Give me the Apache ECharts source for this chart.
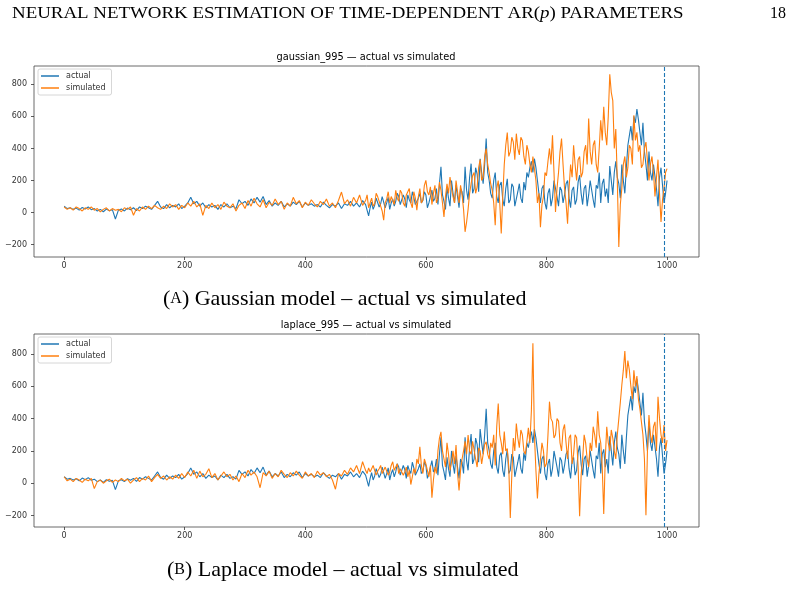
<!DOCTYPE html>
<html><head><meta charset="utf-8">
<script src="https://cdn.jsdelivr.net/npm/echarts@6/dist/echarts.min.js"></script>
<style>html,body{margin:0;padding:0;background:#fff}#c{width:793px;height:611px}</style>
</head><body><div id="c"></div>
<script>
// early part: sampled every 5 time steps, t = 0 ... 495
const actualEarly = [
40,25,30,20,28,15,32,22,35,18,25,10,20,5,22,12,18,-40,15,22,
10,28,18,30,12,35,25,40,30,20,45,70,35,25,50,30,45,35,55,25,
40,60,95,55,70,40,60,30,50,35,45,20,50,35,55,30,40,25,80,55,
70,45,85,60,95,65,100,50,75,40,60,45,70,35,55,40,65,50,70,35,
60,45,55,40,50,35,65,45,30,50,40,60,25,55,45,70,40,60,35,75];
// late part: sampled every 2.5 time steps, t = 500 ... 1000
const actualLate = [
50,40,-20,30,65,20,45,90,80,35,55,100,90,30,60,95,20,60,85,40,
70,120,100,50,45,110,85,30,110,80,60,130,95,50,40,90,120,60,75,130,
110,30,60,100,140,70,90,150,50,180,285,110,70,20,160,90,40,200,120,60,
170,100,30,150,130,60,285,140,80,220,305,120,150,280,240,130,336,250,180,300,
461,250,200,120,90,200,250,100,60,170,190,80,40,150,210,60,80,180,160,40,
30,130,180,90,60,190,140,250,220,280,320,250,336,280,200,120,60,150,170,60,
20,120,150,40,90,200,190,100,40,160,140,60,110,180,200,90,30,140,160,50,
80,190,233,120,50,150,170,40,110,200,200,80,30,170,150,250,60,180,210,100,
150,60,290,200,110,250,320,220,180,90,300,200,120,280,420,480,540,450,600,560,
646,580,500,420,560,380,300,200,380,250,200,300,310,150,40,220,280,170,60,120,
200];
const simGaussianEarly = [
35,20,30,15,35,25,10,30,20,35,15,25,5,20,30,10,25,15,20,5,
30,20,35,-17,25,10,35,20,40,25,45,30,20,40,25,55,35,50,20,45,
30,60,40,70,35,55,-17,45,25,60,30,50,20,65,40,30,55,10,45,60,
25,75,40,90,55,35,80,30,65,45,85,50,70,20,60,40,95,55,75,30,
65,45,80,55,35,70,50,85,40,60,30,75,128,55,80,40,95,60,110,45];
const simGaussianLate = [
75,110,30,60,90,40,55,120,100,70,40,10,-48,60,85,130,60,100,110,50,
139,90,70,140,120,60,40,110,100,150,60,30,130,90,15,100,150,60,80,170,
201,130,110,160,50,120,170,60,90,190,140,60,-27,100,180,120,222,150,100,60,
200,130,60,170,110,20,-120,-60,20,120,180,230,250,120,160,280,330,200,220,350,
399,300,250,180,140,60,-79,150,200,60,-131,100,300,420,499,350,380,470,440,330,
492,400,360,470,450,350,300,420,380,300,250,350,340,200,60,120,-92,50,100,250,
230,320,400,300,482,250,4,150,250,380,461,300,150,60,-69,150,300,220,420,300,
200,330,350,220,250,380,420,300,586,380,300,420,450,300,250,400,575,450,659,500,
420,600,862,750,698,400,521,200,-214,50,150,300,350,220,280,420,400,300,607,450,
500,380,420,280,300,400,440,320,200,300,350,250,100,220,330,120,-58,80,150,250,
274];
const simLaplaceEarly = [
40,15,25,10,30,20,5,25,15,30,-33,10,20,0,15,25,5,20,10,30,
15,25,0,20,35,10,30,20,45,10,35,55,30,45,20,40,25,50,30,60,
35,70,45,80,30,75,40,55,90,35,60,20,45,70,40,55,20,45,10,60,
35,80,50,70,40,-28,65,45,75,30,60,40,80,55,35,65,45,75,50,30,
70,45,60,35,75,50,65,40,55,20,-37,60,45,80,55,95,70,110,60,133];
const simLaplaceLate = [
80,60,95,70,60,110,100,50,75,90,110,60,55,100,90,50,70,110,133,80,
80,120,60,90,100,50,70,100,40,80,-8,40,90,60,150,120,225,110,60,150,
120,80,40,110,-90,20,100,60,200,280,318,200,150,100,250,180,80,130,200,120,
236,60,-45,80,150,200,260,180,298,200,180,260,250,150,100,220,200,120,130,240,
256,180,150,250,220,300,110,350,494,300,250,180,320,200,215,100,-215,50,280,200,
370,280,220,330,300,200,180,260,343,250,450,866,300,80,-95,60,150,250,200,100,
120,300,505,400,380,280,300,400,385,250,200,330,364,250,150,280,300,120,180,300,
281,100,-205,50,150,300,250,150,100,250,200,350,300,220,446,300,250,100,-190,150,
350,250,200,330,280,200,150,300,400,500,608,700,818,650,760,700,600,520,700,600,
663,520,460,380,300,150,-198,200,422,300,250,350,380,200,536,400,300,250,360,200,
267];
const EARLY_STEP = 5, LATE_START = 500, LATE_STEP = 2.5;
const xTicks = [0,200,400,600,800,1000];
const yTicks = [-200,0,200,400,600,800];
const cutoff = 995;
const panelTitles = ['gaussian_995 \u2014 actual vs simulated','laplace_995 \u2014 actual vs simulated'];
const captionLetters = ['A','B'];
const captionTexts = [' Gaussian model \u2013 actual vs simulated',' Laplace model \u2013 actual vs simulated'];
const seriesNames = ['actual','simulated'];
const headerText = ['NEURAL NETWORK ESTIMATION OF TIME-DEPENDENT AR(', 'p', ') PARAMETERS'];
const pageNumber = '18';

const BLUE = '#1f77b4', ORANGE = '#ff7f0e', AX = '#333';
const toPairs = (early, late) =>
  early.map((v, i) => [i * EARLY_STEP, v]).concat(late.map((v, i) => [LATE_START + i * LATE_STEP, v]));

const grids = [
  {left: 34, top: 66, width: 665, height: 191},
  {left: 34, top: 334, width: 665, height: 193}
];
const yRanges = [[-277, 914], [-271, 924]];

const chart = echarts.init(document.getElementById('c'), null, {renderer: 'canvas'});
const option = {
  animation: false,
  backgroundColor: '#fff',
  grid: grids.map(g => Object.assign({show: true, borderColor: '#444', borderWidth: 0.8, backgroundColor: 'transparent'}, g)),
  xAxis: grids.map((g, i) => ({
    gridIndex: i, type: 'value', min: -50, max: 1053, position: 'bottom',
    axisLine: {show: false, onZero: false}, splitLine: {show: false},
    axisTick: {show: true, inside: false, customValues: xTicks, length: 3, lineStyle: {color: AX, width: 0.8}},
    axisLabel: {customValues: xTicks, fontSize: 8, color: AX, margin: 5, fontFamily: 'DejaVu Sans',
      formatter: v => String(v)}
  })),
  yAxis: grids.map((g, i) => ({
    gridIndex: i, type: 'value', min: yRanges[i][0], max: yRanges[i][1], position: 'left',
    axisLine: {show: false, onZero: false}, splitLine: {show: false},
    axisTick: {show: true, inside: false, customValues: yTicks, length: 3, lineStyle: {color: AX, width: 0.8}},
    axisLabel: {customValues: yTicks, fontSize: 8, color: AX, margin: 7, fontFamily: 'DejaVu Sans',
      formatter: v => (v < 0 ? '\u2212' + Math.abs(v) : String(v))}
  })),
  legend: grids.map((g, i) => ({
    orient: 'vertical', left: 38, top: g.top + 3,
    data: seriesNames, icon: 'rect', itemWidth: 18, itemHeight: 1.5, itemGap: 4,
    padding: [3, 6, 3, 3], borderColor: '#ccc', borderWidth: 0.8, borderRadius: 2,
    backgroundColor: 'rgba(255,255,255,0.8)', selectedMode: false,
    textStyle: {fontSize: 8, color: AX, fontFamily: 'DejaVu Sans', padding: [0, 0, 0, 2]}
  })),
  series: [
    {name: 'actual', type: 'line', xAxisIndex: 0, yAxisIndex: 0, data: toPairs(actualEarly, actualLate), color: BLUE,
     showSymbol: false, lineStyle: {width: 1.1, color: BLUE},
     markLine: {silent: true, symbol: 'none', label: {show: false}, lineStyle: {type: [4, 2], color: BLUE, width: 1.1}, data: [{xAxis: cutoff}]}},
    {name: 'simulated', type: 'line', xAxisIndex: 0, yAxisIndex: 0, data: toPairs(simGaussianEarly, simGaussianLate), color: ORANGE,
     showSymbol: false, lineStyle: {width: 1.1, color: ORANGE}},
    {name: 'actual', type: 'line', xAxisIndex: 1, yAxisIndex: 1, data: toPairs(actualEarly, actualLate), color: BLUE,
     showSymbol: false, lineStyle: {width: 1.1, color: BLUE},
     markLine: {silent: true, symbol: 'none', label: {show: false}, lineStyle: {type: [4, 2], color: BLUE, width: 1.1}, data: [{xAxis: cutoff}]}},
    {name: 'simulated', type: 'line', xAxisIndex: 1, yAxisIndex: 1, data: toPairs(simLaplaceEarly, simLaplaceLate), color: ORANGE,
     showSymbol: false, lineStyle: {width: 1.1, color: ORANGE}}
  ],
  graphic: [
    {type: 'text', x: 12, y: 14, scaleX: 1.18, style: {
      text: '{a|' + headerText[0] + '}{b|' + headerText[1] + '}{a|' + headerText[2] + '}',
      verticalAlign: 'middle', fill: '#000',
      rich: {a: {fontFamily: 'Liberation Serif', fontSize: 16, fill: '#000'},
             b: {fontFamily: 'Liberation Serif', fontSize: 16, fontStyle: 'italic', fill: '#000'}}}},
    {type: 'text', x: 786, y: 14, style: {text: pageNumber, align: 'right', verticalAlign: 'middle',
      font: '16px "Liberation Serif"', fill: '#000'}},
    {type: 'text', x: 366, y: 57, style: {text: panelTitles[0], align: 'center', verticalAlign: 'middle',
      font: '9.8px "DejaVu Sans"', fill: '#000'}},
    {type: 'text', x: 366, y: 325, style: {text: panelTitles[1], align: 'center', verticalAlign: 'middle',
      font: '9.8px "DejaVu Sans"', fill: '#000'}},
    {type: 'text', x: 163, y: 299, style: {
      text: '{n|(}{s|' + captionLetters[0] + '}{n|)' + captionTexts[0] + '}', verticalAlign: 'middle',
      rich: {n: {fontFamily: 'Liberation Serif', fontSize: 22, fill: '#000'},
             s: {fontFamily: 'Liberation Serif', fontSize: 16, fill: '#000'}}}},
    {type: 'text', x: 167, y: 570, style: {
      text: '{n|(}{s|' + captionLetters[1] + '}{n|)' + captionTexts[1] + '}', verticalAlign: 'middle',
      rich: {n: {fontFamily: 'Liberation Serif', fontSize: 22, fill: '#000'},
             s: {fontFamily: 'Liberation Serif', fontSize: 16, fill: '#000'}}}}
  ]
};
chart.setOption(option);
</script>
</body></html>
